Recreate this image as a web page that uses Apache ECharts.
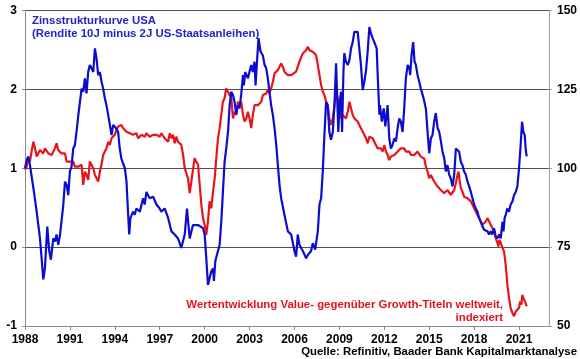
<!DOCTYPE html>
<html><head><meta charset="utf-8">
<script src="https://cdn.jsdelivr.net/npm/echarts@6/dist/echarts.min.js"></script>
<style>html,body{margin:0;padding:0;background:#fff}#c{width:580px;height:359px}</style>
</head><body><div id="c"></div>
<script>
// Tick labels
const xTickYears = [1988,1991,1994,1997,2000,2003,2006,2009,2012,2015,2018,2021];
const leftTicks = [-1,0,1,2,3];
const rightTicks = [50,75,100,125,150];

// Blue: Zinsstrukturkurve USA (10J minus 2J), in Prozentpunkten
const blueYears = [1988.00,1988.11,1988.22,1988.33,1988.56,1988.78,1989.00,1989.11,1989.22,1989.33,1989.49,1989.62,1989.73,1989.89,1990.00,1990.11,1990.22,1990.33,1990.44,1990.56,1990.67,1990.78,1990.89,1991.00,1991.11,1991.22,1991.33,1991.44,1991.56,1991.67,1991.78,1991.89,1992.00,1992.11,1992.22,1992.33,1992.44,1992.56,1992.67,1992.78,1992.89,1993.00,1993.11,1993.22,1993.33,1993.44,1993.56,1993.67,1993.78,1993.89,1994.00,1994.11,1994.22,1994.33,1994.44,1994.67,1994.78,1994.89,1994.96,1995.04,1995.22,1995.33,1995.44,1995.67,1995.89,1996.00,1996.11,1996.33,1996.56,1996.78,1996.96,1997.11,1997.33,1997.56,1997.78,1998.00,1998.22,1998.44,1998.67,1998.82,1999.00,1999.22,1999.56,1999.89,2000.00,2000.11,2000.22,2000.33,2000.44,2000.56,2000.62,2000.71,2000.89,2001.00,2001.11,2001.22,2001.33,2001.44,2001.56,2001.67,2001.78,2001.89,2002.00,2002.11,2002.22,2002.33,2002.44,2002.56,2002.62,2002.71,2002.89,2003.11,2003.22,2003.33,2003.40,2003.51,2003.60,2003.73,2003.89,2004.00,2004.11,2004.22,2004.33,2004.44,2004.56,2004.67,2004.78,2004.89,2005.00,2005.11,2005.33,2005.56,2005.78,2005.89,2006.00,2006.11,2006.22,2006.33,2006.56,2006.78,2006.89,2007.11,2007.22,2007.38,2007.56,2007.67,2007.78,2007.89,2008.00,2008.11,2008.22,2008.33,2008.44,2008.56,2008.67,2008.78,2008.84,2008.93,2009.00,2009.11,2009.18,2009.27,2009.33,2009.44,2009.56,2009.67,2009.78,2009.89,2010.00,2010.11,2010.22,2010.33,2010.44,2010.56,2010.67,2010.78,2010.89,2011.00,2011.11,2011.22,2011.33,2011.40,2011.49,2011.56,2011.67,2011.71,2011.84,2011.96,2012.07,2012.22,2012.33,2012.44,2012.56,2012.67,2012.78,2012.89,2013.00,2013.11,2013.22,2013.33,2013.44,2013.56,2013.67,2013.73,2013.82,2013.93,2014.02,2014.11,2014.22,2014.33,2014.44,2014.56,2014.67,2014.78,2014.89,2015.00,2015.11,2015.22,2015.33,2015.44,2015.56,2015.67,2015.78,2015.89,2016.00,2016.11,2016.22,2016.33,2016.44,2016.56,2016.67,2016.78,2016.89,2017.00,2017.11,2017.22,2017.33,2017.44,2017.56,2017.67,2017.78,2017.89,2018.00,2018.11,2018.22,2018.33,2018.44,2018.56,2018.67,2018.78,2018.89,2019.00,2019.11,2019.22,2019.33,2019.44,2019.56,2019.67,2019.78,2019.89,2019.96,2020.04,2020.11,2020.22,2020.33,2020.44,2020.56,2020.67,2020.78,2020.89,2021.00,2021.11,2021.20,2021.29,2021.38,2021.44,2021.51];
const blueSpread = [1.00,1.10,1.15,1.04,0.75,0.45,0.11,-0.14,-0.41,-0.27,0.26,-0.05,-0.16,0.11,0.07,0.16,0.03,0.14,0.16,0.54,0.83,0.79,0.66,0.96,1.02,1.25,1.29,1.46,1.67,1.84,2.01,1.97,2.14,1.95,2.22,2.31,2.27,2.22,2.52,2.39,2.18,2.22,2.10,2.01,1.89,1.80,1.67,1.55,1.42,1.55,1.57,1.50,1.46,1.25,1.12,1.00,0.83,0.41,0.16,0.37,0.45,0.41,0.49,0.45,0.62,0.54,0.70,0.62,0.64,0.54,0.50,0.45,0.49,0.37,0.20,0.16,0.11,-0.01,0.16,0.49,0.11,0.28,0.28,0.24,0.16,-0.14,-0.48,-0.46,-0.31,-0.27,-0.43,-0.18,-0.05,0.03,0.32,0.70,1.08,1.25,1.46,1.80,1.97,1.93,1.84,1.68,1.80,1.76,1.93,2.18,2.05,2.22,2.14,2.31,2.22,2.35,2.05,2.39,2.65,2.48,2.43,2.31,2.27,2.14,1.97,1.80,1.67,1.51,1.30,1.04,0.79,0.62,0.41,0.20,0.16,0.16,-0.05,-0.12,0.16,0.03,-0.05,-0.14,-0.10,-0.05,0.05,-0.03,0.20,0.54,0.62,0.96,1.42,1.84,1.80,1.46,1.36,1.46,1.80,2.33,1.97,1.46,1.80,1.97,1.46,2.22,2.46,2.35,2.31,2.37,2.52,2.60,2.73,2.75,2.73,2.52,2.31,1.99,2.10,2.24,2.48,2.79,2.71,2.65,2.60,2.62,2.52,2.18,1.68,1.80,1.59,1.76,1.53,1.80,1.38,1.25,1.30,1.38,1.34,1.51,1.63,1.59,1.46,1.76,2.14,2.31,2.27,2.18,2.43,2.60,2.35,2.31,2.18,2.10,2.01,1.93,1.85,1.75,1.46,1.19,1.38,1.42,1.59,1.70,1.51,1.46,1.34,1.21,1.13,0.96,1.04,0.92,0.87,0.77,0.92,1.25,1.25,1.21,1.08,1.04,0.96,0.92,0.83,0.77,0.70,0.62,0.54,0.49,0.45,0.37,0.32,0.26,0.22,0.20,0.20,0.16,0.20,0.16,0.24,0.14,0.11,0.16,0.11,0.32,0.20,0.37,0.41,0.49,0.45,0.54,0.58,0.66,0.70,0.77,1.00,1.30,1.59,1.46,1.42,1.25,1.15];

// Red: Wertentwicklung Value vs. Growth weltweit, indexiert
const redYears = [1988.00,1988.11,1988.22,1988.33,1988.44,1988.56,1988.67,1988.78,1988.89,1989.00,1989.11,1989.22,1989.33,1989.44,1989.56,1989.67,1989.78,1989.89,1990.00,1990.11,1990.22,1990.33,1990.44,1990.56,1990.67,1990.78,1990.89,1991.00,1991.11,1991.22,1991.33,1991.44,1991.56,1991.67,1991.78,1991.89,1992.00,1992.11,1992.22,1992.33,1992.44,1992.56,1992.67,1992.78,1992.89,1993.00,1993.11,1993.22,1993.33,1993.44,1993.56,1993.67,1993.78,1993.89,1994.00,1994.11,1994.22,1994.33,1994.44,1994.56,1994.67,1994.78,1994.89,1995.00,1995.11,1995.22,1995.33,1995.44,1995.56,1995.67,1995.78,1995.89,1996.00,1996.11,1996.22,1996.33,1996.44,1996.56,1996.67,1996.78,1996.89,1997.00,1997.11,1997.33,1997.56,1997.67,1997.78,1997.89,1998.00,1998.11,1998.22,1998.33,1998.44,1998.56,1998.67,1998.78,1998.89,1999.00,1999.11,1999.22,1999.33,1999.44,1999.56,1999.67,1999.78,1999.89,2000.00,2000.11,2000.22,2000.33,2000.44,2000.56,2000.67,2000.78,2000.89,2001.00,2001.11,2001.22,2001.33,2001.44,2001.56,2001.67,2001.78,2001.89,2002.00,2002.11,2002.22,2002.33,2002.44,2002.56,2002.67,2002.78,2002.89,2003.00,2003.11,2003.22,2003.33,2003.44,2003.56,2003.67,2003.78,2003.89,2004.00,2004.11,2004.22,2004.33,2004.44,2004.56,2004.67,2004.78,2004.89,2005.00,2005.11,2005.22,2005.33,2005.44,2005.56,2005.78,2006.11,2006.33,2006.56,2006.78,2006.89,2007.00,2007.22,2007.44,2007.56,2007.67,2007.78,2007.89,2008.00,2008.11,2008.22,2008.33,2008.44,2008.56,2008.67,2008.78,2008.89,2009.00,2009.11,2009.22,2009.33,2009.44,2009.56,2009.67,2009.78,2009.89,2010.00,2010.11,2010.22,2010.33,2010.44,2010.56,2010.67,2010.78,2010.89,2011.00,2011.11,2011.22,2011.33,2011.44,2011.56,2011.67,2011.78,2011.89,2012.00,2012.11,2012.22,2012.33,2012.44,2012.56,2012.67,2012.78,2012.89,2013.00,2013.11,2013.22,2013.33,2013.44,2013.56,2013.67,2013.78,2013.89,2014.00,2014.11,2014.22,2014.33,2014.44,2014.56,2014.67,2014.78,2014.89,2015.00,2015.11,2015.22,2015.33,2015.44,2015.56,2015.67,2015.78,2015.89,2016.00,2016.11,2016.22,2016.33,2016.44,2016.56,2016.67,2016.78,2016.89,2016.96,2017.04,2017.11,2017.22,2017.33,2017.44,2017.56,2017.67,2017.78,2017.89,2018.00,2018.11,2018.22,2018.33,2018.44,2018.56,2018.67,2018.78,2018.89,2019.00,2019.11,2019.22,2019.33,2019.44,2019.56,2019.62,2019.69,2019.78,2019.89,2020.00,2020.11,2020.22,2020.33,2020.44,2020.56,2020.67,2020.78,2020.89,2021.00,2021.07,2021.16,2021.22,2021.29,2021.36,2021.44,2021.51];
const redIndex = [99.5,100.5,103.2,102.1,105.3,108.4,106.3,103.7,104.2,105.8,105.3,104.7,106.3,106.9,104.7,105.3,104.2,104.7,106.3,107.9,105.8,105.3,104.7,104.2,104.7,102.1,102.6,102.1,101.6,102.1,100.5,101.1,100.5,100.0,101.1,94.7,98.9,97.9,96.3,102.1,102.1,100.0,97.9,96.8,95.8,98.9,101.1,104.2,105.3,106.3,108.4,107.4,109.5,110.0,110.6,112.1,113.2,113.7,113.7,112.7,112.1,111.6,111.6,111.1,110.6,110.6,110.0,111.1,109.5,110.0,110.6,111.1,110.0,111.1,110.6,110.0,109.5,110.6,110.0,110.6,111.1,110.0,111.1,109.5,108.4,111.1,109.5,110.6,107.9,110.0,108.4,109.0,107.4,104.2,100.0,99.5,96.8,92.1,95.8,99.5,103.2,102.1,101.1,94.7,88.4,84.2,82.1,78.9,83.1,89.5,87.3,92.6,96.8,103.2,109.5,112.7,116.9,121.1,122.2,125.3,125.8,123.2,122.2,115.8,117.9,116.9,121.1,120.0,121.1,116.9,114.8,115.8,117.9,115.8,112.7,116.9,120.0,120.6,120.0,120.6,121.1,123.2,123.2,123.7,124.8,123.7,125.3,127.4,130.1,130.6,131.1,132.2,133.2,132.2,130.6,130.1,129.5,129.5,130.6,133.8,136.4,137.4,138.5,137.4,136.9,135.9,132.7,129.5,126.4,124.3,123.2,121.1,120.0,115.8,113.7,115.8,120.0,124.3,122.2,120.0,115.8,116.9,116.9,115.8,117.9,121.1,118.9,116.9,115.8,115.3,114.8,114.2,112.7,111.6,111.1,109.5,107.9,110.0,110.6,109.5,108.4,107.4,106.3,105.8,106.3,105.3,107.4,105.3,104.2,102.6,103.7,103.2,104.2,104.2,105.3,104.7,106.3,105.8,106.3,105.3,104.7,105.3,104.2,103.7,104.2,103.7,105.3,104.7,103.7,103.2,103.0,100.5,98.9,96.8,97.9,96.8,95.8,95.3,94.2,93.7,93.1,92.6,92.1,92.6,93.1,92.6,91.6,92.1,93.1,95.3,97.9,98.9,95.8,93.7,92.6,91.0,91.6,90.5,90.0,89.5,88.4,87.3,86.3,85.8,84.2,83.7,82.1,81.5,83.1,84.2,83.7,82.1,81.0,80.0,77.9,76.3,75.2,77.3,76.3,75.7,73.6,69.4,63.1,58.9,55.7,54.1,53.1,54.6,55.2,55.7,57.8,56.8,59.9,58.9,59.4,57.3,56.2];

const FONT = '"Liberation Sans", Arial, sans-serif';
const chart = echarts.init(document.getElementById('c'), null, {renderer: 'canvas'});
const axisLabelStyle = {color: '#000', fontWeight: 'bold', fontSize: 12, fontFamily: FONT};

chart.setOption({
  animation: false,
  backgroundColor: '#fff',
  grid: {left: 25, right: 31, top: 10.5, bottom: 33, containLabel: false},
  xAxis: {
    type: 'value', min: 1988, max: 2023,
    axisLine: {show: true, onZero: false, lineStyle: {color: '#8a8a8a', width: 1}},
    axisTick: {show: true, customValues: xTickYears, length: 4, lineStyle: {color: '#8a8a8a'}},
    axisLabel: Object.assign({customValues: xTickYears, margin: 8, formatter: v => String(v)}, axisLabelStyle),
    splitLine: {show: false}
  },
  yAxis: [
    {
      type: 'value', min: -1, max: 3, interval: 1, position: 'left',
      axisLine: {show: true, lineStyle: {color: '#8a8a8a'}},
      axisTick: {show: true, length: 3, lineStyle: {color: '#8a8a8a'}},
      axisLabel: Object.assign({margin: 8, formatter: v => String(v)}, axisLabelStyle),
      splitLine: {show: true, lineStyle: {color: '#505050', width: 1}}
    },
    {
      type: 'value', min: 50, max: 150, interval: 25, position: 'right',
      axisLine: {show: true, lineStyle: {color: '#a0a0a0'}},
      axisTick: {show: true, length: 3, lineStyle: {color: '#a0a0a0'}},
      axisLabel: Object.assign({margin: 8}, axisLabelStyle),
      splitLine: {show: false}
    }
  ],
  series: [
    {
      name: 'Value vs Growth', type: 'line', yAxisIndex: 1, showSymbol: false,
      data: redYears.map((y, i) => [y, redIndex[i]]),
      lineStyle: {color: '#e8141c', width: 2.2}, itemStyle: {color: '#e8141c'}
    },
    {
      name: 'Zinsstrukturkurve', type: 'line', yAxisIndex: 0, showSymbol: false,
      data: blueYears.map((y, i) => [y, blueSpread[i]]),
      lineStyle: {color: '#0c0cd0', width: 2.2}, itemStyle: {color: '#0c0cd0'}
    }
  ],
  graphic: [
    {type: 'text', x: 32, y: 14.5, z: 10, style: {text: 'Zinsstrukturkurve USA\n(Rendite 10J minus 2J US-Staatsanleihen)', fill: '#2323c8', font: 'bold 11.4px ' + FONT, lineHeight: 13}},
    {type: 'text', x: 503, y: 298, z: 10, style: {text: 'Wertentwicklung Value- gegenüber Growth-Titeln weltweit,\nindexiert', fill: '#e3141e', font: 'bold 11.4px ' + FONT, lineHeight: 13, align: 'right'}},
    {type: 'text', x: 577, y: 346, z: 10, style: {text: 'Quelle: Refinitiv, Baader Bank Kapitalmarktanalyse', fill: '#000', font: 'bold 11.4px ' + FONT, align: 'right'}}
  ]
});
</script>
</body></html>
